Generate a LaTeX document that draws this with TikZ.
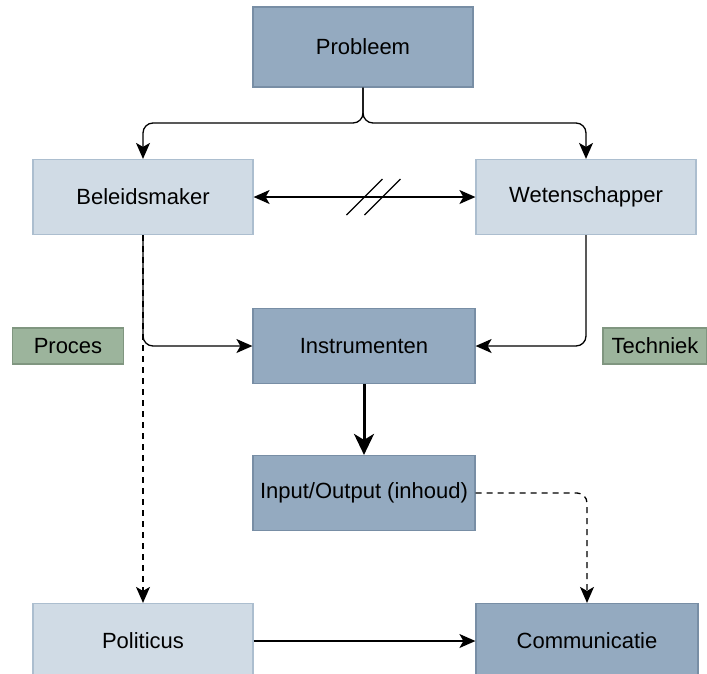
\documentclass[tikz,border=0pt]{standalone}
\usepackage{fontspec}
\setmainfont{Liberation Sans}
\usetikzlibrary{arrows.meta,calc}

\definecolor{darkfill}{RGB}{148,170,192}
\definecolor{darkline}{RGB}{120,142,165}
\definecolor{lightfill}{RGB}{208,219,229}
\definecolor{lightline}{RGB}{172,190,207}
\definecolor{greenfill}{RGB}{156,180,156}
\definecolor{greenline}{RGB}{128,150,128}

\begin{document}
\begin{tikzpicture}[x=1pt,y=-1pt,
  font=\fontsize{22}{26}\selectfont,
  box/.style={draw, line width=1.2pt, minimum width=220pt, minimum height=75pt, inner sep=0pt},
  darkbox/.style={box, fill=darkfill, draw=darkline},
  lightbox/.style={box, fill=lightfill, draw=lightline},
  tagbox/.style={draw=greenline, fill=greenfill, line width=1.2pt, minimum height=36pt, inner sep=0pt},
  arr/.style={line width=1.3pt, -{Stealth[length=16pt,width=14pt,inset=4pt]}, rounded corners=10pt},
  dashedarr/.style={arr, dash pattern=on 6pt off 5pt}]
\useasboundingbox (0,0) rectangle (707,673);

\node[darkbox, minimum height=80pt] (probleem) at (363,47) {Probleem};
\node[lightbox] (beleid) at (143,197) {Beleidsmaker};
\node[lightbox] (wetensch) at (586,197) {Wetenschapper};
\node[darkbox, minimum width=222pt] (instr) at (364,346) {Instrumenten};
\node[darkbox, minimum width=222pt] (io) at (364,493) {Input/Output (inhoud)};
\node[lightbox] (politicus) at (143,641) {Politicus};
\node[darkbox, minimum width=222pt] (comm) at (587,641) {Communicatie};

\node[tagbox, minimum width=111pt] (proces) at (68,346) {Proces};
\node[tagbox, minimum width=104pt] (techniek) at (655,346) {Techniek};

% splitsing onder het probleem
\coordinate (split) at (363,123);
\draw[arr] (probleem.south) -- (split) -| (beleid.north);
\draw[arr] (probleem.south) -- (split) -| (wetensch.north);

% verbroken verbinding
\draw[line width=1.3pt, {Stealth[length=16pt,width=14pt,inset=4pt]}-{Stealth[length=16pt,width=14pt,inset=4pt]}]
  (beleid.east) -- (wetensch.west);
\coordinate (mid) at ($(beleid.east)!0.5!(wetensch.west)$);
\draw[line width=1.3pt] ($(mid)+(-18,18)$) -- ($(mid)+(18,-18)$);
\draw[line width=1.3pt] ($(mid)+(0,18)$) -- ($(mid)+(36,-18)$);

\draw[arr] (beleid.south) |- (instr.west);
\draw[arr] (wetensch.south) |- (instr.east);
\draw[dashedarr] (beleid.south) -- (politicus.north);

\draw[arr, line width=3pt, -{Stealth[length=21pt,width=20pt,inset=6pt]}] (instr.south) -- (io.north);
\draw[dashedarr] (io.east) -| (comm.north);
\draw[arr] (politicus.east) -- (comm.west);
\end{tikzpicture}
\end{document}
